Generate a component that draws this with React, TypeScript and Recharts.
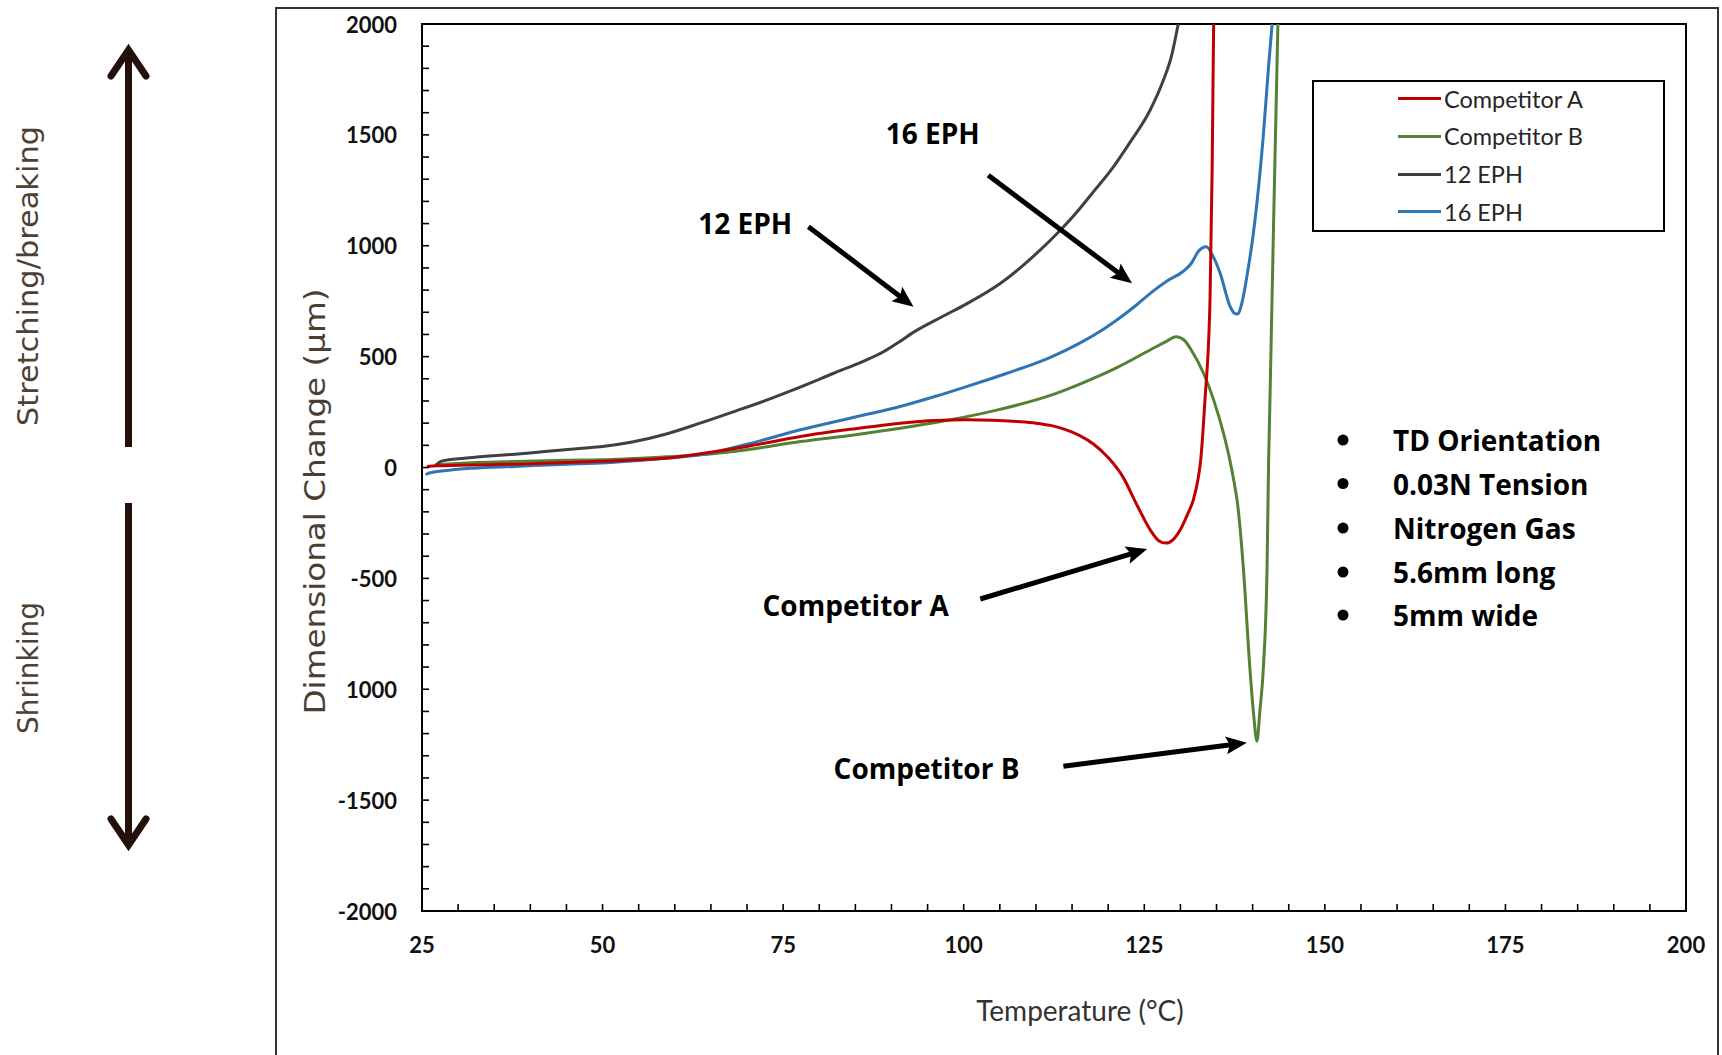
import React from 'react';
import { LineChart, Line, XAxis, YAxis, ReferenceLine, ReferenceDot, ReferenceArea, Legend } from 'recharts';

// ---------- data ----------
const seriesNames = ['Competitor A', 'Competitor B', '12 EPH', '16 EPH'];
const seriesColors = ['#c00000', '#548235', '#404040', '#2e75b6'];

const compATemp = [25.7, 27, 30, 34, 37.9, 45, 50, 55, 58.7, 63.5, 70, 77.4, 85, 91.2, 96, 100.4, 104, 107.4, 110, 112, 114, 116, 118, 120, 122, 124, 125.8, 127, 128, 129, 130, 131, 131.8, 132.4, 132.8, 133.4, 134.1, 134.4, 134.6];
const compAValue = [5, 8, 10, 12, 15, 22, 28, 35, 42, 62, 95, 140, 175, 200, 212, 215, 213, 207, 200, 190, 172, 145, 105, 45, -40, -170, -280, -330, -341, -325, -280, -210, -145, -60, 30, 305, 755, 1356, 2000];

const compBTemp = [26.8, 30, 37.9, 45, 49.7, 58.7, 63.5, 70, 77.4, 85, 91.2, 98.2, 105, 112, 116, 121.2, 125.8, 128, 129.4, 130.5, 131.5, 133.2, 134.6, 136, 136.8, 137.4, 137.9, 138.7, 139.6, 140.1, 140.6, 141, 141.5, 142, 142.2, 142.4, 142.9, 143.5];
const compBValue = [12, 18, 27, 33, 35, 48, 57, 80, 117, 148, 177, 215, 262, 325, 375, 450, 530, 568, 590, 575, 530, 425, 305, 150, 40, -60, -160, -446, -896, -1100, -1234, -1100, -896, -446, 5, 305, 1100, 2000];

const eph12Temp = [26.9, 27.3, 28.2, 32, 37.9, 42, 47.2, 50, 54.1, 58.7, 63.5, 68, 72.8, 77, 82, 86, 88.9, 91, 93.3, 97, 100.4, 105.1, 110.6, 113.4, 116, 118, 120.7, 123, 125.8, 127.5, 128.8, 129.7];
const eph12Value = [5, 22, 32, 45, 60, 72, 87, 95, 115, 150, 200, 250, 305, 358, 425, 478, 522, 565, 615, 680, 738, 831, 981, 1071, 1165, 1245, 1355, 1465, 1611, 1735, 1860, 2000];

const eph16Temp = [25.5, 26, 28.7, 32, 37.9, 45, 49.7, 55, 58.7, 63.5, 70, 77.4, 85, 91.2, 96, 100.4, 106, 112, 116, 119.4, 121.2, 124, 126, 128.1, 130.4, 131.5, 132.5, 133.6, 134.4, 135.5, 136.9, 137.5, 137.9, 138.5, 139.3, 140.1, 141.5, 142.2, 142.7];
const eph16Value = [-33, -25, -12, -3, 5, 15, 20, 32, 42, 57, 105, 170, 228, 275, 320, 365, 425, 497, 560, 625, 665, 735, 790, 840, 885, 920, 975, 995, 960, 876, 725, 695, 692, 740, 880, 1056, 1506, 1806, 2000];

const xMajorTicks = [25, 50, 75, 100, 125, 150, 175, 200];
const xTickLabels = ['25', '50', '75', '100', '125', '150', '175', '200'];
const yMajorTicks = [-2000, -1500, -1000, -500, 0, 500, 1000, 1500, 2000];
const yTickLabels = ['-2000', '-1500', '1000', '-500', '0', '500', '1000', '1500', '2000'];

const annotationText = ['12 EPH', '16 EPH', 'Competitor A', 'Competitor B'];
const annotationTextT = [69.75, 95.7, 85.05, 94.85];
const annotationTextV = [1101, 1508, -618, -1353];
const arrowFromT = [78.5, 103.4, 102.3, 113.8];
const arrowFromV = [1086, 1318, -593, -1347];
const arrowToT = [93.05, 123.3, 125.4, 139.2];
const arrowToV = [725, 831, -368, -1241];

const noteLines = ['TD Orientation', '0.03N Tension', 'Nitrogen Gas', '5.6mm long', '5mm wide'];

// ---------- derived ----------
const zip = (ts: number[], vs: number[]) => ts.map((t, i) => ({ t, v: vs[i] }));
const seriesData = [zip(compATemp, compAValue), zip(compBTemp, compBValue), zip(eph12Temp, eph12Value), zip(eph16Temp, eph16Value)];
const drawOrder = [1, 2, 3, 0];

const xTicks: number[] = [];
for (let t = 25; t <= 200; t += 5) xTicks.push(t);
const yTicks: number[] = [];
for (let v = -2000; v <= 2000; v += 100) yTicks.push(v);

const FONT = 'Lato, "Open Sans", sans-serif';
const BOLD_FONT = '"Open Sans", Lato, sans-serif';
const Y_MARGIN = 25;
const X_MARGIN = 20;

const YTick = (props: any) => {
  const { x, y, payload } = props;
  const axisX = x + Y_MARGIN;
  const idx = yMajorTicks.indexOf(payload.value);
  return (
    <g>
      <line x1={axisX} x2={axisX + 7} y1={y} y2={y} stroke="#000" strokeWidth={1.6} />
      {idx >= 0 && (
        <text x={x} y={y} textAnchor="end" dominantBaseline="central" fontFamily={FONT} fontWeight={700} fontSize={22} fill="#111">
          {yTickLabels[idx]}
        </text>
      )}
    </g>
  );
};

const XTick = (props: any) => {
  const { x, y, payload } = props;
  const axisY = y - X_MARGIN;
  const idx = xMajorTicks.indexOf(payload.value);
  return (
    <g>
      <line x1={x} x2={x} y1={axisY} y2={axisY - 7} stroke="#000" strokeWidth={1.6} />
      {idx >= 0 && (
        <text x={x} y={axisY + 33} textAnchor="middle" dominantBaseline="central" fontFamily={FONT} fontWeight={700} fontSize={22} fill="#111">
          {xTickLabels[idx]}
        </text>
      )}
    </g>
  );
};

const ArrowShape = (props: any) => {
  const { x1, y1, x2, y2 } = props;
  if ([x1, y1, x2, y2].some((n) => typeof n !== 'number' || isNaN(n))) return null;
  const dx = x2 - x1;
  const dy = y2 - y1;
  const len = Math.hypot(dx, dy) || 1;
  const ux = dx / len;
  const uy = dy / len;
  const headLen = 21;
  const headW = 9;
  const bx = x2 - ux * headLen;
  const by = y2 - uy * headLen;
  const pts = `${x2},${y2} ${bx - uy * headW},${by + ux * headW} ${bx + ux * 4},${by + uy * 4} ${bx + uy * headW},${by - ux * headW}`;
  return (
    <g>
      <line x1={x1} y1={y1} x2={bx + ux * 5} y2={by + uy * 5} stroke="#000" strokeWidth={5} />
      <polygon points={pts} fill="#000" />
    </g>
  );
};

const makeTextShape = (label: string) => (props: any) => {
  const { cx, cy } = props;
  return (
    <text x={cx} y={cy} textAnchor="middle" dominantBaseline="central" fontFamily={BOLD_FONT} fontWeight={700} fontSize={28} fill="#000">
      {label}
    </text>
  );
};

const LegendBox = () => (
  <div style={{ width: 353, height: 152, border: '2px solid #000', boxSizing: 'border-box', background: '#fff', position: 'relative' }}>
    {seriesNames.map((name, i) => (
      <div key={name} style={{ position: 'absolute', left: 0, top: 16.5 + i * 37.8, height: 0, width: '100%' }}>
        <div style={{ position: 'absolute', left: 84, top: -1.5, width: 43, height: 3, background: seriesColors[i] }} />
        <div style={{ position: 'absolute', left: 130, top: -15, fontFamily: FONT, fontSize: 23.5, lineHeight: '30px', color: '#262626', whiteSpace: 'nowrap' }}>{name}</div>
      </div>
    ))}
  </div>
);

const YTitle = (p: any) => {
  const vb = p.viewBox || { x: 342, y: 24, width: 80, height: 887 };
  const cx = vb.x + vb.width - 107;
  const cy = vb.y + vb.height / 2 + 34;
  return (
    <text x={cx} y={cy} transform={`rotate(-90, ${cx}, ${cy})`} textAnchor="middle" dominantBaseline="central" fontFamily='"DejaVu Sans", sans-serif' fontSize={29} fill="#4a3e33" textLength={426} lengthAdjust="spacingAndGlyphs">
      Dimensional Change (µm)
    </text>
  );
};

const XTitle = (p: any) => {
  const vb = p.viewBox || { x: 422, y: 911, width: 1264, height: 60 };
  const cx = vb.x + vb.width / 2 + 26;
  const cy = vb.y + 99;
  return (
    <text x={cx} y={cy} textAnchor="middle" dominantBaseline="central" fontFamily={FONT} fontSize={28} fill="#333">
      Temperature (°C)
    </text>
  );
};

export default function App() {
  const noteY = [440, 483.5, 528, 572, 615];
  return (
    <div style={{ position: 'absolute', left: 0, top: 0, width: 1722, height: 1055, overflow: 'hidden', background: '#fff' }}>
      <div style={{ position: 'absolute', left: 275, top: 7, width: 1444, height: 1100, border: '2px solid #333', boxSizing: 'border-box' }} />
      <div style={{ position: 'absolute', left: 0, top: 0 }}>
        <LineChart width={1722} height={1055} margin={{ top: 24, right: 36, left: 342, bottom: 84 }}>
          <XAxis
            dataKey="t"
            type="number"
            domain={[25, 200]}
            ticks={xTicks}
            interval={0}
            allowDataOverflow
            height={60}
            tickSize={0}
            tickMargin={X_MARGIN}
            tickLine={false}
            axisLine={{ stroke: '#000', strokeWidth: 2 }}
            tick={<XTick />}
            label={{ content: <XTitle /> }}
          />
          <YAxis
            type="number"
            domain={[-2000, 2000]}
            ticks={yTicks}
            interval={0}
            allowDataOverflow
            width={80}
            tickSize={0}
            tickMargin={Y_MARGIN}
            tickLine={false}
            axisLine={{ stroke: '#000', strokeWidth: 2 }}
            tick={<YTick />}
            label={{ content: <YTitle /> }}
          />
          <ReferenceArea x1={25} x2={200} y1={-2000} y2={2000} fill="none" stroke="#000" strokeWidth={2} />
          {drawOrder.map((i) => (
            <Line
              key={seriesNames[i]}
              data={seriesData[i]}
              dataKey="v"
              name={seriesNames[i]}
              type="monotone"
              stroke={seriesColors[i]}
              strokeWidth={3}
              dot={false}
              activeDot={false}
              isAnimationActive={false}
            />
          ))}
          {annotationText.map((txt, i) => (
            <ReferenceLine
              key={'arr' + txt}
              segment={[{ x: arrowFromT[i], y: arrowFromV[i] }, { x: arrowToT[i], y: arrowToV[i] }]}
              shape={ArrowShape}
            />
          ))}
          {annotationText.map((txt, i) => (
            <ReferenceDot key={'txt' + txt} x={annotationTextT[i]} y={annotationTextV[i]} r={0} shape={makeTextShape(txt)} />
          ))}
          <Legend
            layout="vertical"
            align="center"
            verticalAlign="middle"
            content={<LegendBox />}
            wrapperStyle={{ left: 1312, top: 80, width: 353, height: 152 }}
          />
        </LineChart>
      </div>
      <svg width={1722} height={1055} style={{ position: 'absolute', left: 0, top: 0, pointerEvents: 'none' }}>
        <line x1={128.5} y1={447} x2={128.5} y2={52} stroke="#231109" strokeWidth={7} />
        <polyline points="111,76 128.5,50 146,76" fill="none" stroke="#231109" strokeWidth={7} strokeLinecap="round" />
        <line x1={128.5} y1={503} x2={128.5} y2={843} stroke="#231109" strokeWidth={7} />
        <polyline points="111,819 128.5,845 146,819" fill="none" stroke="#231109" strokeWidth={7} strokeLinecap="round" />
        <text x={28} y={276} transform="rotate(-90, 28, 276)" textAnchor="middle" dominantBaseline="central" fontFamily='"Liberation Sans Narrow", "DejaVu Sans Condensed", Roboto, sans-serif' fontSize={29} fill="#4d4136" textLength={300} lengthAdjust="spacingAndGlyphs">
          Stretching/breaking
        </text>
        <text x={28} y={668} transform="rotate(-90, 28, 668)" textAnchor="middle" dominantBaseline="central" fontFamily='"Liberation Sans Narrow", "DejaVu Sans Condensed", Roboto, sans-serif' fontSize={29} fill="#4d4136" textLength={132} lengthAdjust="spacingAndGlyphs">
          Shrinking
        </text>
        {noteLines.map((line, i) => (
          <g key={line}>
            <circle cx={1343} cy={noteY[i]} r={5.5} fill="#000" />
            <text x={1393} y={noteY[i]} dominantBaseline="central" fontFamily={BOLD_FONT} fontWeight={700} fontSize={28} fill="#000">
              {line}
            </text>
          </g>
        ))}
      </svg>
    </div>
  );
}
